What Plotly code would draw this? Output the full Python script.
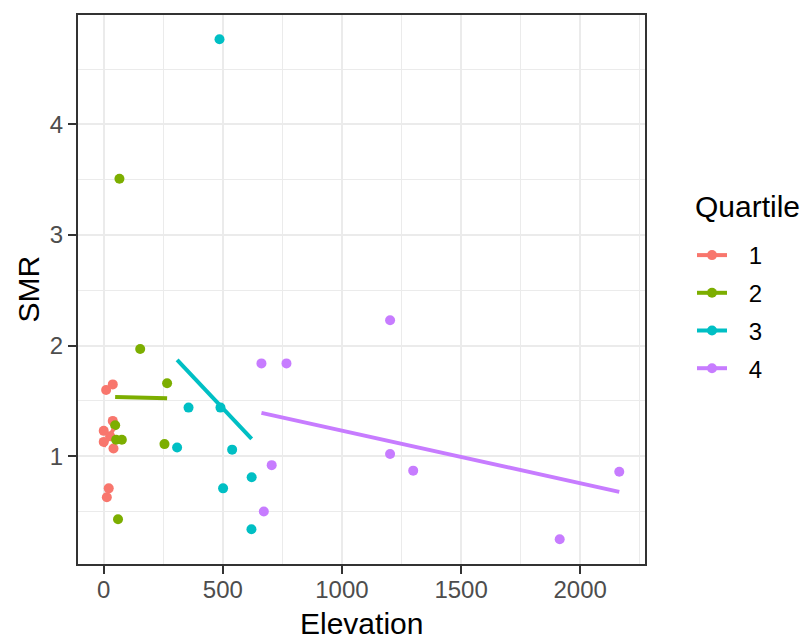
import numpy as np
import plotly.graph_objects as go

quartiles = ["1", "2", "3", "4"]
colors = ["#F8766D", "#7CAE00", "#00BFC4", "#C77CFF"]

elev_q1 = [10, 38, 38, 0, 0, 41, 21, 13, 27]
smr_q1 = [1.60, 1.65, 1.32, 1.23, 1.13, 1.07, 0.71, 0.63, 1.18]

elev_q2 = [153, 266, 48, 52, 76, 255, 60, 66]
smr_q2 = [1.97, 1.66, 1.28, 1.15, 1.15, 1.11, 0.43, 3.51]

elev_q3 = [486, 356, 490, 308, 539, 501, 621, 620]
smr_q3 = [4.77, 1.44, 1.44, 1.08, 1.06, 0.71, 0.81, 0.34]

elev_q4 = [662, 767, 705, 672, 1202, 1202, 1299, 2164, 1914]
smr_q4 = [1.84, 1.84, 0.92, 0.50, 2.23, 1.02, 0.87, 0.86, 0.25]

x_ticks = [0, 500, 1000, 1500, 2000]
y_ticks = [1, 2, 3, 4]

groups = [(elev_q1, smr_q1), (elev_q2, smr_q2), (elev_q3, smr_q3), (elev_q4, smr_q4)]

FONT = "Liberation Sans, Arial, Helvetica, sans-serif"

fig = go.Figure()

# points
for q, col, (ex, sm) in zip(quartiles, colors, groups):
    fig.add_trace(go.Scatter(x=ex, y=sm, mode="markers",
                             marker=dict(color=col, size=10, line=dict(width=0)),
                             showlegend=False, legendgroup=q, hoverinfo="x+y"))

# linear fits
for q, col, (ex, sm) in zip(quartiles, colors, groups):
    ex_a = np.array(ex, dtype=float)
    sm_a = np.array(sm, dtype=float)
    b, a = np.polyfit(ex_a, sm_a, 1)
    xs = np.array([ex_a.min(), ex_a.max()])
    fig.add_trace(go.Scatter(x=xs, y=a + b * xs, mode="lines",
                             line=dict(color=col, width=4),
                             showlegend=False, legendgroup=q, hoverinfo="skip"))

# legend entries
for q, col in zip(quartiles, colors):
    fig.add_trace(go.Scatter(x=[None], y=[None], mode="lines+markers",
                             name="\u2002\u2009" + q,
                             line=dict(color=col, width=4),
                             marker=dict(color=col, size=10),
                             legendgroup=q, showlegend=True))

axis_common = dict(
    showline=True, linecolor="#333333", linewidth=2, mirror=True,
    ticks="outside", ticklen=8, tickwidth=2, tickcolor="#333333",
    showgrid=True, gridcolor="#EBEBEB", gridwidth=2,
    zeroline=False, automargin=False,
    tickfont=dict(family=FONT, size=24, color="#4D4D4D"),
)

fig.update_layout(
    width=804, height=635,
    margin=dict(l=78, r=159, t=15, b=71, autoexpand=False),
    paper_bgcolor="white", plot_bgcolor="white",
    font=dict(family=FONT),
    xaxis=dict(range=[-108, 2272], tickvals=x_ticks,
               ticklabelstandoff=-5,
               minor=dict(tickvals=[250, 750, 1250, 1750, 2250], showgrid=True,
                          gridcolor="#EBEBEB", gridwidth=1, ticks=""),
               **axis_common),
    yaxis=dict(range=[0.026, 4.99], tickvals=y_ticks,
               minor=dict(tickvals=[0.5, 1.5, 2.5, 3.5, 4.5], showgrid=True,
                          gridcolor="#EBEBEB", gridwidth=1, ticks=""),
               **axis_common),
    legend=dict(
        font=dict(family=FONT, size=24, color="black"),
        xref="container", yref="container",
        x=692 / 804, xanchor="left",
        y=1 - 233 / 635, yanchor="top",
        tracegroupgap=3.5,
        bgcolor="rgba(0,0,0,0)",
    ),
    annotations=[
        dict(text="Quartile", xref="paper", yref="paper",
             x=(693 - 78) / 567, y=(564 - 206) / 549,
             xanchor="left", yanchor="middle", showarrow=False,
             font=dict(family=FONT, size=30, color="black")),
        dict(text="Elevation", xref="paper", yref="paper",
             x=0.5, y=(564 - 623) / 549,
             xanchor="center", yanchor="middle", showarrow=False,
             font=dict(family=FONT, size=30, color="black")),
        dict(text="SMR", xref="paper", yref="paper",
             x=(28 - 78) / 567, y=0.5, textangle=-90,
             xanchor="center", yanchor="middle", showarrow=False,
             font=dict(family=FONT, size=30, color="black")),
    ],
)

fig.write_html("out.html")
